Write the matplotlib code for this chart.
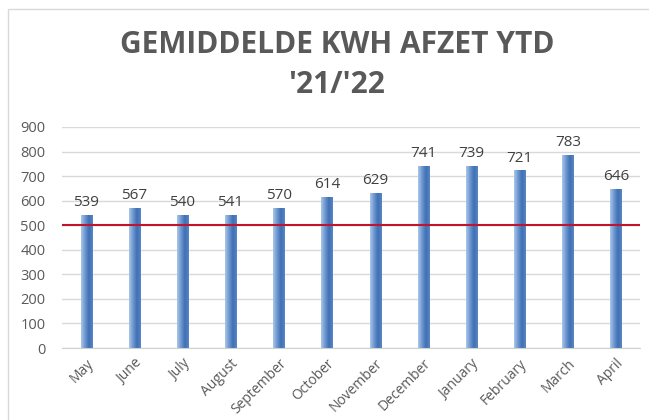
import matplotlib.pyplot as plt
import numpy as np
from matplotlib.colors import LinearSegmentedColormap
from matplotlib.patches import Rectangle

months = ["May", "June", "July", "August", "September", "October",
          "November", "December", "January", "February", "March", "April"]
kwh = [539, 567, 540, 541, 570, 614, 629, 741, 739, 721, 783, 646]
target = 500

fig = plt.figure(figsize=(6.49, 4.2), dpi=100)
# chart frame like the excel chart area
fig.patches.append(Rectangle((8 / 649, -0.01), 1.0, 1 - 9 / 420 + 0.01,
                             transform=fig.transFigure, fill=False,
                             edgecolor="#d9d9d9", linewidth=1))

ax = fig.add_axes([62 / 649, 1 - 348 / 420, 578 / 649, 221 / 420])
x = np.arange(len(months))
w = 0.23

cmap = LinearSegmentedColormap.from_list("bar", ["#aac6e8", "#6f98d0", "#3f6fb5", "#5a85c4"])
grad = np.linspace(0, 1, 64).reshape(1, -1)
for xi, v in zip(x, kwh):
    ax.imshow(grad, cmap=cmap, aspect="auto", extent=(xi - w / 2, xi + w / 2, 0, v),
              zorder=2, interpolation="bilinear")
    ax.text(xi, v + 22, str(v), ha="center", va="bottom", fontsize=11,
            color="#404040", family="Open Sans")

ax.axhline(target, color="#c0142c", linewidth=1.5, zorder=3)

ax.set_xlim(-0.5, len(months) - 0.5)
ax.set_ylim(0, 900)
ax.set_yticks(range(0, 901, 100))
ax.yaxis.grid(True, color="#d9d9d9", linewidth=1)
ax.set_axisbelow(True)
for s in ["top", "right", "left"]:
    ax.spines[s].set_visible(False)
ax.spines["bottom"].set_color("#d0d0d0")
ax.tick_params(axis="both", length=0, colors="#595959", labelsize=10.5)
ax.tick_params(axis="y", pad=12)
ax.tick_params(axis="x", pad=6)
ax.set_xticks(x)
ax.set_xticklabels(months, rotation=45, ha="right", rotation_mode="anchor",
                   fontsize=10, family="Open Sans")
for lab in ax.get_yticklabels():
    lab.set_family("Open Sans")

fig.text(337 / 649, 1 - 45 / 420, "GEMIDDELDE KWH AFZET YTD", ha="center", va="center",
         fontsize=21.5, fontweight="bold", color="#595959", family="Open Sans")
fig.text(337 / 649, 1 - 85 / 420, "'21/'22", ha="center", va="center",
         fontsize=21.5, fontweight="bold", color="#595959", family="Open Sans")

fig.savefig("out.png", dpi=100)
